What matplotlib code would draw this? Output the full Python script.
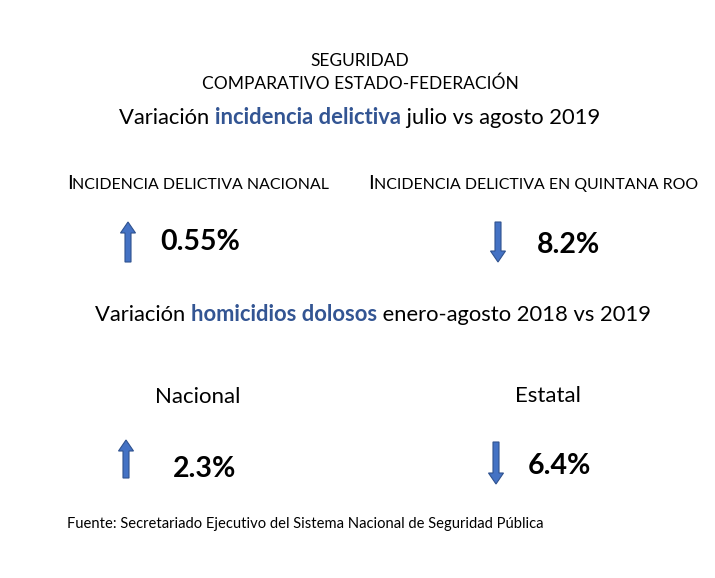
import matplotlib
matplotlib.use('Agg')
import matplotlib.pyplot as plt

plt.rcParams['font.family'] = ['Lato', 'DejaVu Sans']

# data
header_lines = ['SEGURIDAD', 'COMPARATIVO ESTADO-FEDERACIÓN']
section_titles = [
    ('Variación ', 'incidencia delictiva', ' julio vs agosto 2019'),
    ('Variación ', 'homicidios dolosos', ' enero-agosto 2018 vs 2019'),
]
incidence_labels = ['Incidencia delictiva nacional', 'Incidencia delictiva en Quintana Roo']
incidence_values = [0.55, -8.2]
homicide_labels = ['Nacional', 'Estatal']
homicide_values = [2.3, -6.4]
source_text = 'Fuente: Secretariado Ejecutivo del Sistema Nacional de Seguridad Pública'

BLUE_TEXT = '#335593'
ARROW_FILL = '#4472C4'
ARROW_EDGE = '#2F528F'

fig = plt.figure(figsize=(7.15, 5.78), dpi=100)
ax = fig.add_axes([0, 0, 1, 1])
ax.set_xlim(0, 715)
ax.set_ylim(578, 0)
ax.axis('off')
renderer = fig.canvas.get_renderer()


def rich_text(x, y, parts, ha='center'):
    # parts: list of (text, size, color, weight); drawn one after the other on a baseline
    objs = []
    widths = []
    for txt, size, color, weight in parts:
        t = ax.text(0, y, txt, fontsize=size, color=color, fontweight=weight,
                    va='baseline', ha='left')
        w = t.get_window_extent(renderer).width
        objs.append(t)
        widths.append(w)
    total = sum(widths)
    start = x - total / 2 if ha == 'center' else x
    for t, w in zip(objs, widths):
        t.set_x(start)
        start += w


def small_caps(x, y, label, big=14.5, small=11.45):
    # only the very first letter is full size
    parts = [(label[0].upper(), big, 'black', 'normal'),
             (label[1:].upper(), small, 'black', 'normal')]
    rich_text(x, y, parts)


def arrow(x, y_mid, value, length=40):
    d = 1 if value > 0 else -1
    y0 = y_mid + d * length / 2
    ax.arrow(x, y0, 0, -d * length, width=6, head_width=15, head_length=11,
             length_includes_head=True, fc=ARROW_FILL, ec=ARROW_EDGE, lw=0.8)


# header
ax.text(360, 66, header_lines[0], fontsize=12.5, ha='center', va='baseline')
ax.text(360, 89, header_lines[1], fontsize=12.5, ha='center', va='baseline')

# section 1
a, b, c = section_titles[0]
rich_text(360, 124, [(a, 15.85, 'black', 'normal'), (b, 15.85, BLUE_TEXT, 'bold'),
                     (c, 15.85, 'black', 'normal')])
small_caps(198, 189, incidence_labels[0])
small_caps(533, 189, incidence_labels[1])

arrow(128, 242, incidence_values[0])
ax.text(160, 250, f'{abs(incidence_values[0]):.2f}%', fontsize=20.5, fontweight='bold',
        ha='left', va='baseline')
arrow(498, 242, incidence_values[1])
ax.text(537, 253, f'{abs(incidence_values[1]):.1f}%', fontsize=20.5, fontweight='bold',
        ha='left', va='baseline')

# section 2
a, b, c = section_titles[1]
rich_text(373, 321, [(a, 15.85, 'black', 'normal'), (b, 15.85, BLUE_TEXT, 'bold'),
                     (c, 15.85, 'black', 'normal')])
ax.text(198, 403, homicide_labels[0], fontsize=16, ha='center', va='baseline')
ax.text(548, 402, homicide_labels[1], fontsize=16, ha='center', va='baseline')

arrow(126, 459, homicide_values[0], length=38)
ax.text(173, 477, f'{abs(homicide_values[0]):.1f}%', fontsize=20.5, fontweight='bold',
        ha='left', va='baseline')
arrow(496, 463, homicide_values[1], length=42)
ax.text(528, 474, f'{abs(homicide_values[1]):.1f}%', fontsize=20.5, fontweight='bold',
        ha='left', va='baseline')

# source
ax.text(67, 528, source_text, fontsize=10.6, ha='left', va='baseline')

fig.savefig('out.png', dpi=100, facecolor='white')
